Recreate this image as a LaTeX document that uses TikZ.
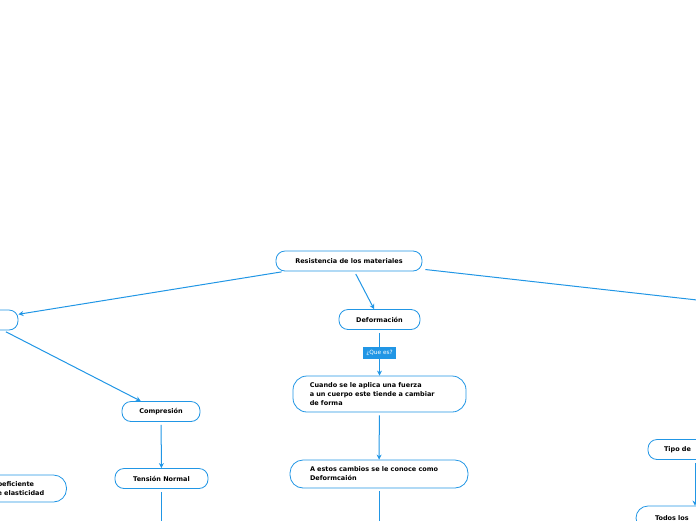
\documentclass[tikz,border=0pt]{standalone}
\usepackage{fontspec}
\setmainfont{DejaVu Sans}
\usetikzlibrary{arrows.meta}
\definecolor{mmblue}{RGB}{33,150,229}
\begin{document}
\begin{tikzpicture}[x=1pt,y=-1pt,every node/.style={font=\bfseries\fontsize{6.5}{9}\selectfont},
  topic/.style={draw=mmblue,fill=white,line width=0.8pt,rounded corners=9pt,minimum height=20pt,inner sep=0pt},
  link/.style={-{Stealth[length=5pt,width=5pt]},mmblue,line width=1pt,shorten <=3pt},
  tag/.style={fill=mmblue,text=white,font=\fontsize{5.8}{7}\selectfont,inner xsep=3pt,minimum height=12pt}]
  \useasboundingbox (0,0) rectangle (696,520);
  \clip (0,0) rectangle (696,520);
  \node[topic,minimum width=146pt] (res) at (349,261) {Resistencia de los materiales};
  \node[topic,minimum width=70pt] (esf) at (-17,320) {Esfuerzo};
  \node[topic,minimum width=81pt] (def) at (379.5,319.5) {Deformación};
  \node[topic,minimum width=78pt] (comp) at (161,411.5) {Compresión};
  \node[topic,minimum width=93pt] (tens) at (161.5,478.5) {Tensión Normal};
  \node[topic,rounded corners=14pt,minimum height=36pt,text width=139.5pt,inner xsep=16.75pt,align=left] (cuando) at (379.5,394) {Cuando se le aplica una fuerza\\a un cuerpo este tiende a cambiar\\de forma};
  \node[topic,rounded corners=13pt,minimum height=28pt,text width=138pt,inner xsep=20pt,align=left] (estos) at (379,474) {A estos cambios se le conoce como\\Deformcaión};
  \node[topic,rounded corners=13pt,minimum height=27pt,text width=58pt,inner xsep=15.5pt,align=left] (coef) at (22,488.5) {Coeficiente\\de elasticidad};
  \node[topic,text width=62pt,inner xsep=16pt,align=left] (tipo) at (695,449.5) {Tipo de};
  \node[topic,rounded corners=12pt,minimum height=24pt,text width=80pt,inner xsep=19pt,align=left] (todos) at (695,518) {Todos los};
  \coordinate (rgt) at (1000,334);
  \coordinate (tensdown) at (161.5,600);
  \coordinate (estosdown) at (379,600);
  \draw[link] (res) -- (esf);
  \draw[link] (res) -- (def);
  \draw[link] (res) -- (rgt);
  \draw[link] (esf) -- (comp);
  \draw[link] (def) -- node[tag] {¿Que es?} (cuando);
  \draw[link] (cuando) -- (estos);
  \draw[link] (comp) -- (tens);
  \draw[link] (tens) -- (tensdown);
  \draw[link] (estos) -- (estosdown);
  \draw[link] (tipo) -- (todos);
\end{tikzpicture}
\end{document}
